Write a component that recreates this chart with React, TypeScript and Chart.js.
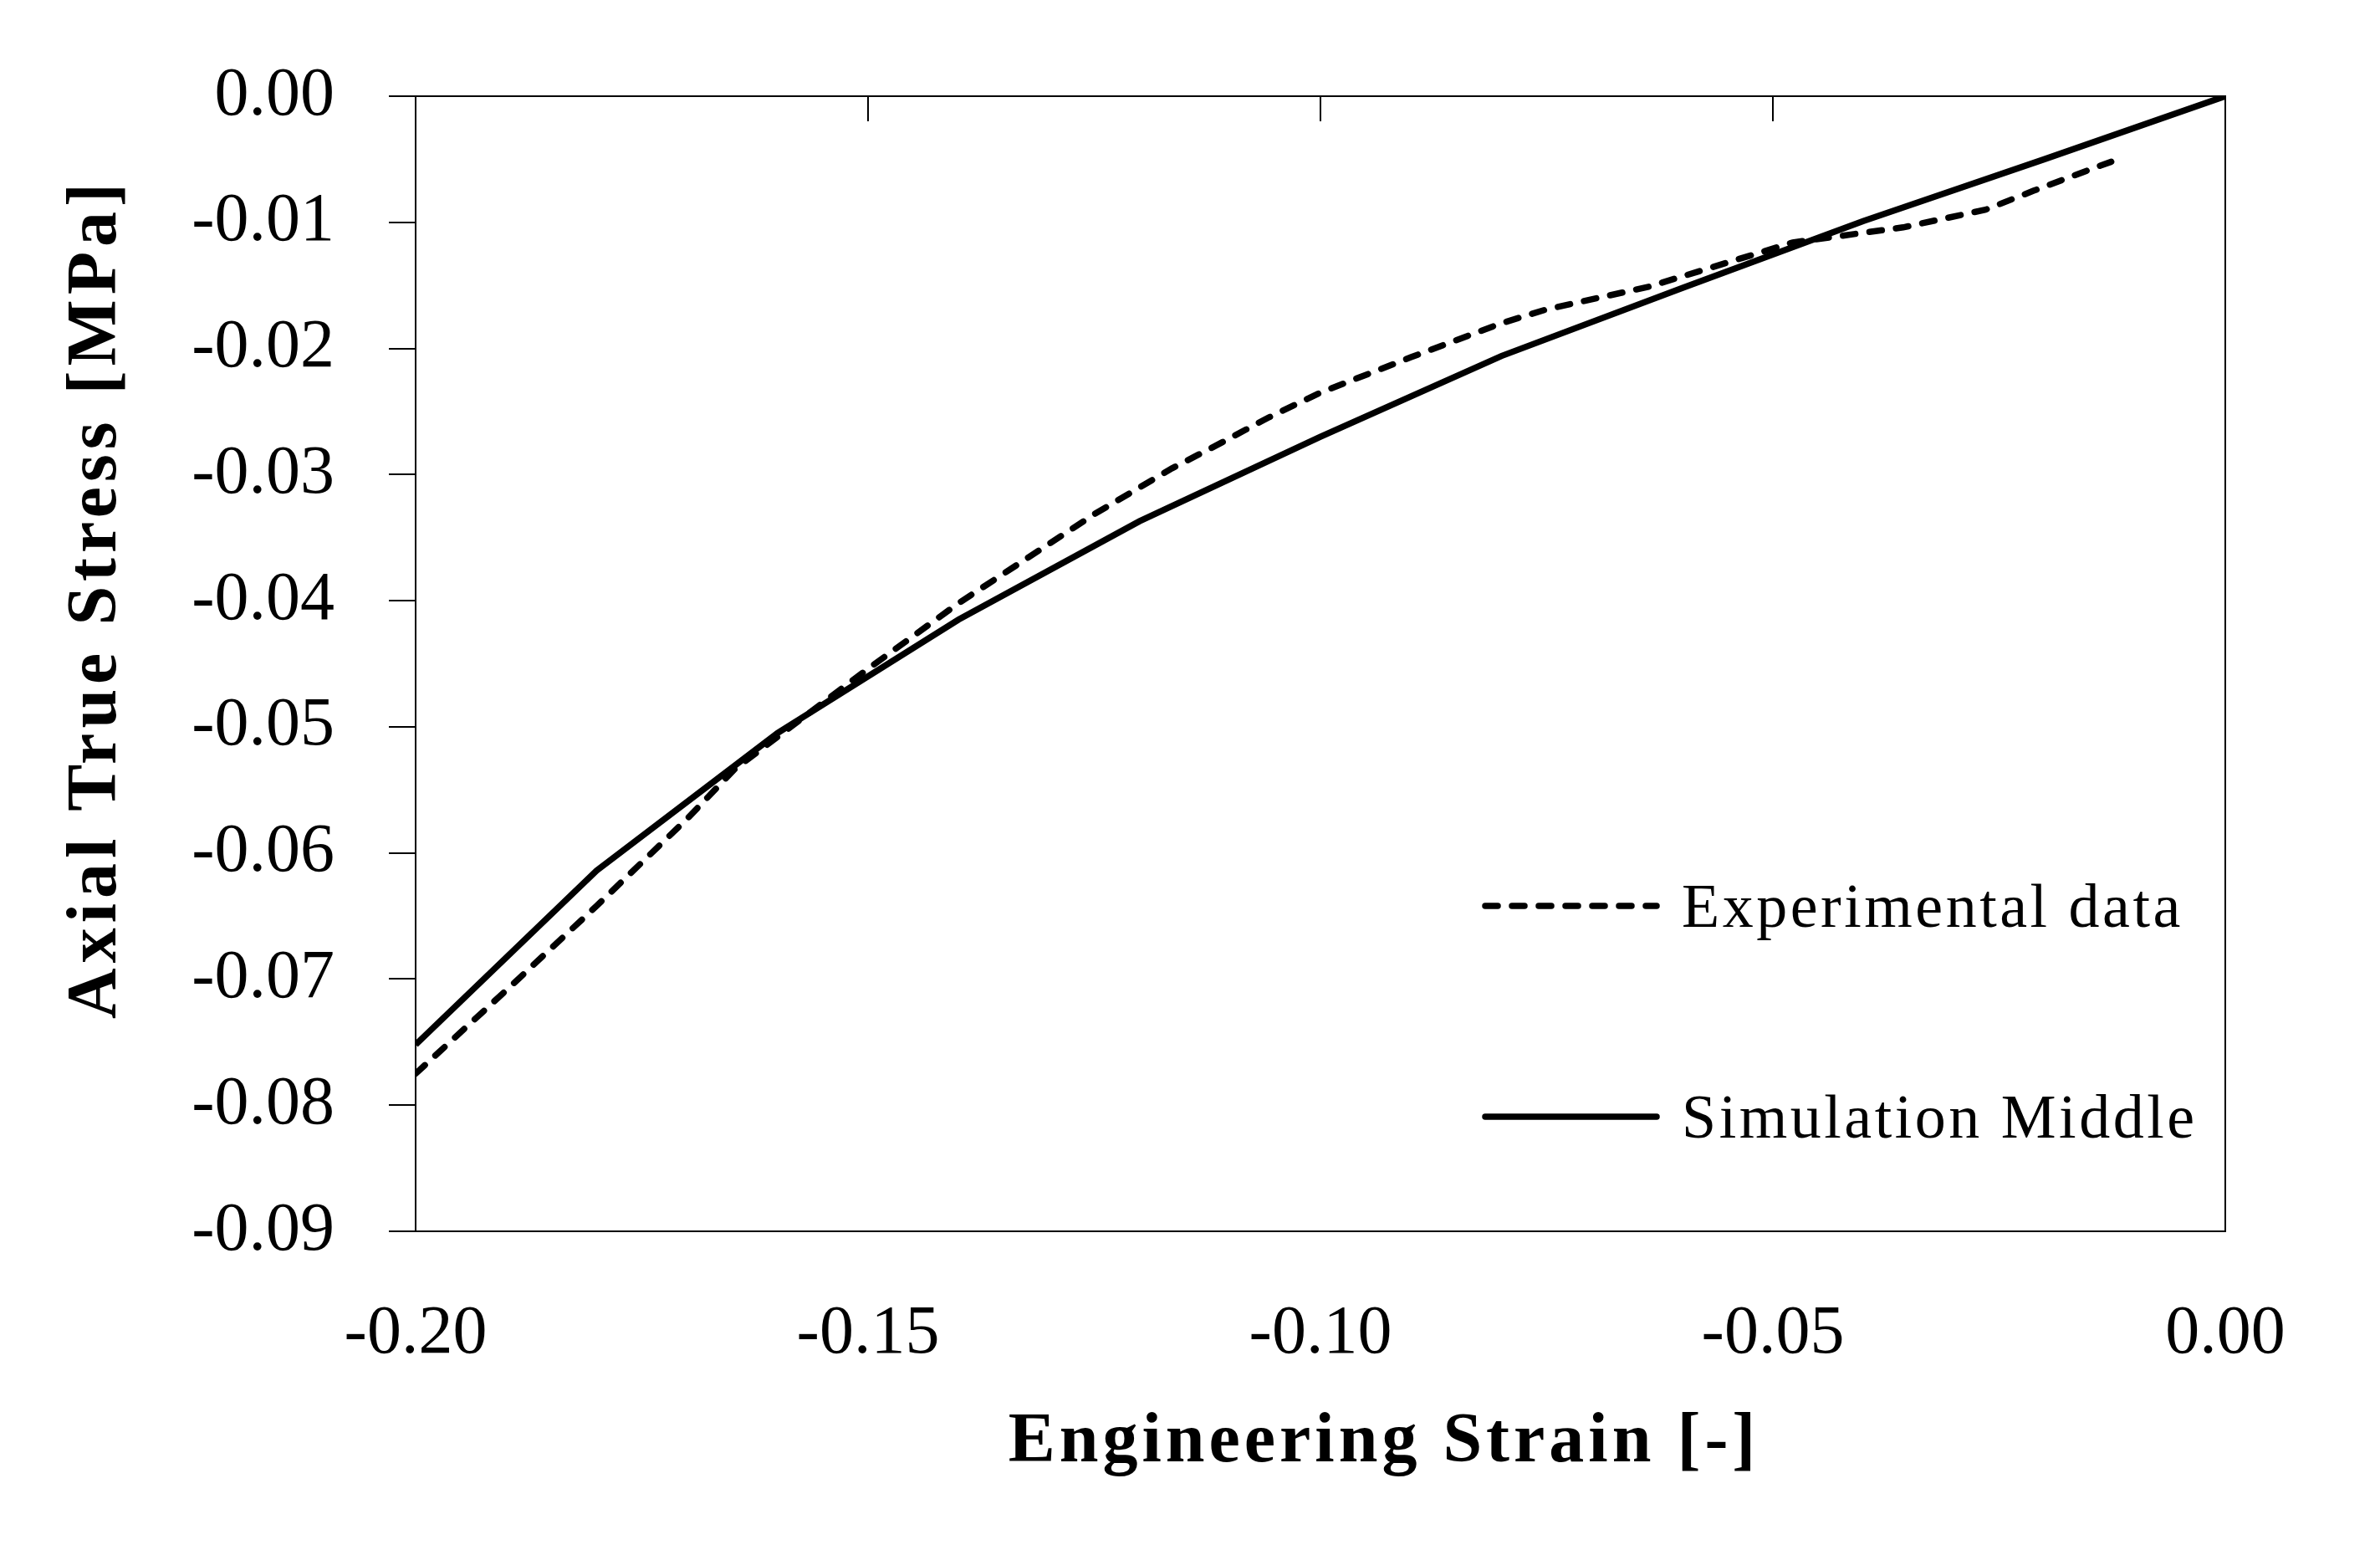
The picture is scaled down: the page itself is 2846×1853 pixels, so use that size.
import React, { useEffect, useRef } from 'react'
import { Chart, registerables, type ChartConfiguration, type Plugin } from 'chart.js'

Chart.register(...registerables)

// experimental curve (compression test), strain [-] vs axial true stress [MPa]
const expStrain = [
  -0.200, -0.190, -0.180, -0.170, -0.1648, -0.160, -0.150, -0.140, -0.130, -0.1249,
  -0.1164, -0.1118, -0.1058, -0.100, -0.090, -0.080, -0.075, -0.0637, -0.0478, -0.0356,
  -0.0265, -0.0212, -0.0138, -0.0126,
]
const expStress = [
  -0.0775, -0.0709, -0.0642, -0.0573, -0.0534, -0.0508, -0.0454, -0.0402, -0.0355, -0.0331,
  -0.0295, -0.0278, -0.0255, -0.0235, -0.0207, -0.0180, -0.0169, -0.0151, -0.0116, -0.0104,
  -0.0090, -0.0075, -0.0055, -0.0052,
]

// simulation, middle element
const simStrain = [-0.20, -0.18, -0.16, -0.14, -0.12, -0.10, -0.08, -0.06, -0.04, -0.02, 0]
const simStress = [-0.0752, -0.0614, -0.0505, -0.0415, -0.0337, -0.0270, -0.0206, -0.0152, -0.0099, -0.0050, 0]

const seriesNames = ['Experimental data', 'Simulation Middle']
const xTopTicks = [-0.15, -0.10, -0.05]
const xTitle = 'Engineering Strain [-]'
const yTitle = 'Axial True Stress [MPa]'

const FONT = '"Liberation Serif", "Times New Roman", serif'

// frame, inward ticks on the top edge, axis titles and the in-plot legend
const framePlugin: Plugin<'line'> = {
  id: 'frame',
  afterDraw(chart) {
    const { ctx, chartArea: a } = chart
    const x = chart.scales.x
    ctx.save()
    ctx.strokeStyle = '#000'
    ctx.lineWidth = 2
    ctx.strokeRect(a.left, a.top, a.right - a.left, a.bottom - a.top)
    ctx.beginPath()
    xTopTicks.forEach(v => {
      const px = Math.round(x.getPixelForValue(v))
      ctx.moveTo(px, a.top)
      ctx.lineTo(px, a.top + 30)
    })
    ctx.stroke()

    ctx.fillStyle = '#000'
    ctx.font = `bold 84px ${FONT}`
    ;(ctx as any).letterSpacing = '5px'
    ctx.textAlign = 'center'
    ctx.textBaseline = 'alphabetic'
    ctx.fillText(xTitle, (a.left + a.right) / 2 + 76, a.bottom + 275)

    ctx.save()
    ctx.translate(138, (a.top + a.bottom) / 2 - 78)
    ctx.rotate(-Math.PI / 2)
    ;(ctx as any).letterSpacing = '6px'
    ctx.fillText(yTitle, 0, 0)
    ctx.restore()

    // legend
    ctx.font = `74px ${FONT}`
    ;(ctx as any).letterSpacing = '3.5px'
    ctx.textAlign = 'left'
    const rows = [a.bottom - 389, a.bottom - 137]
    chart.data.datasets.forEach((ds: any, i) => {
      const y = rows[i]
      ctx.beginPath()
      ctx.lineWidth = ds.borderWidth
      ctx.lineCap = 'round'
      ctx.setLineDash(ds.borderDash || [])
      ctx.moveTo(a.right - 885, y)
      ctx.lineTo(a.right - 680, y)
      ctx.stroke()
      ctx.setLineDash([])
      ctx.fillText(ds.label, a.right - 650, y + 25)
    })
    ctx.restore()
  },
}

export default function App() {
  const canvasRef = useRef<HTMLCanvasElement>(null)
  const chartRef = useRef<Chart | null>(null)

  useEffect(() => {
    if (!canvasRef.current) return
    document.body.style.margin = '0'
    chartRef.current?.destroy()

    const cfg: ChartConfiguration<'line'> = {
      type: 'line',
      data: {
        datasets: [
          {
            label: seriesNames[0],
            data: expStrain.map((v, i) => ({ x: v, y: expStress[i] })),
            borderColor: '#000',
            borderWidth: 7.5,
            borderDash: [15, 17],
            borderCapStyle: 'round',
            pointRadius: 0,
            tension: 0,
          },
          {
            label: seriesNames[1],
            data: simStrain.map((v, i) => ({ x: v, y: simStress[i] })),
            borderColor: '#000',
            borderWidth: 7.5,
            pointRadius: 0,
            tension: 0,
          },
        ],
      },
      options: {
        responsive: true,
        maintainAspectRatio: false,
        animation: false,
        layout: { padding: { top: 115, right: 185, left: 0, bottom: 0 } },
        plugins: {
          legend: { display: false },
          tooltip: { enabled: false },
        },
        scales: {
          x: {
            type: 'linear',
            position: 'bottom',
            min: -0.2,
            max: 0,
            afterFit: s => { s.height = 381 },
            ticks: {
              stepSize: 0.05,
              padding: 74,
              color: '#000',
              font: { family: FONT, size: 82 },
              callback: (v: any) => Number(v).toFixed(2),
            },
            grid: { display: false, drawTicks: false },
            border: { display: false },
          },
          y: {
            type: 'linear',
            min: -0.09,
            max: 0,
            afterFit: s => { s.width = 497 },
            ticks: {
              stepSize: 0.01,
              padding: 65,
              color: '#000',
              font: { family: FONT, size: 82 },
              callback: (v: any) => {
                const s = Number(v).toFixed(2)
                return s === '-0.00' ? '0.00' : s
              },
            },
            grid: { drawOnChartArea: false, drawTicks: true, tickLength: 32, color: '#000', lineWidth: 2 },
            border: { display: true, color: '#000', width: 2 },
          },
        },
      },
      plugins: [framePlugin],
    }
    chartRef.current = new Chart(canvasRef.current, cfg)
    return () => { chartRef.current?.destroy() }
  }, [])

  return (
    <div style={{ position: 'relative', width: 2846, height: 1853, background: '#fff' }}>
      <canvas ref={canvasRef} />
    </div>
  )
}
